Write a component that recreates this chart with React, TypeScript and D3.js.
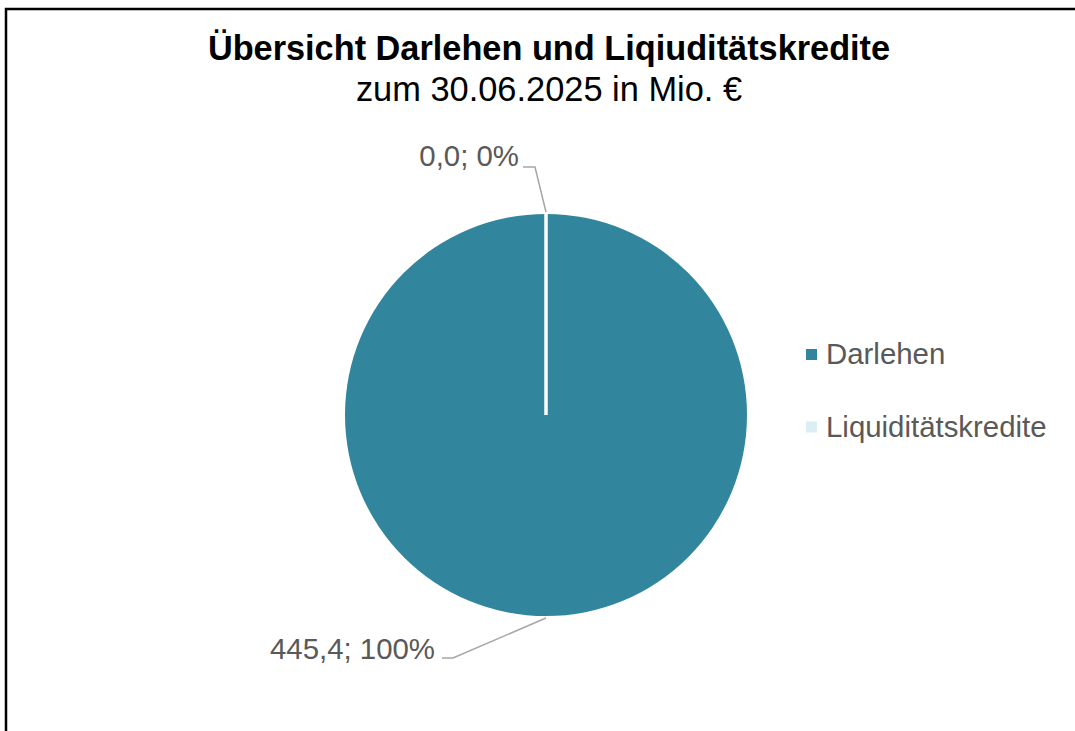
import React from "react";
import * as d3 from "d3";

const categories: string[] = ["Darlehen", "Liquiditätskredite"];
const values: number[] = [445.4, 0.0];
const valueLabels: string[] = ["445,4; 100%", "0,0; 0%"];
const colors: string[] = ["#31859C", "#DAEEF3"];
const title = "Übersicht Darlehen und Liqiuditätskredite";
const subtitle = "zum 30.06.2025 in Mio. €";

const W = 1075;
const H = 731;
const CX = 546;
const CY = 415;
const R = 201;
const FONT = "'Liberation Sans', Arial, sans-serif";
const TEXT = "#595959";
const LF = 29.4;

// layout of leader-line elbows and text for each slice label
const labelLayout = [
  { elbowX: 453, elbowY: 658, endX: 442, textX: 435, textY: 659 },
  { elbowX: 535, elbowY: 167, endX: 523, textX: 519, textY: 166 },
];

export default function App() {
  const pie = d3
    .pie<number>()
    .sort(null)
    .value((d) => d)
    .startAngle(0)
    .endAngle(2 * Math.PI);
  const arcs = pie(values);
  const arc = d3.arc<d3.PieArcDatum<number>>().innerRadius(0).outerRadius(R);
  const pt = (a: number, r: number) => [Math.sin(a) * r, -Math.cos(a) * r];

  return (
    <div style={{ position: "absolute", left: 0, top: 0 }}>
      <svg width={W} height={H} style={{ display: "block", background: "#fff" }}>
        <rect x={0} y={0} width={W} height={H} fill="#fff" />
        <rect x={6} y={9} width={W + 20} height={H + 20} fill="none" stroke="#000" strokeWidth={2.5} />
        <text x={549} y={60} textAnchor="middle" fontFamily={FONT} fontWeight="bold" fontSize={34.3} fill="#000">
          {title}
        </text>
        <text x={549} y={101} textAnchor="middle" fontFamily={FONT} fontSize={34.4} fill="#000">
          {subtitle}
        </text>
        <g transform={`translate(${CX},${CY})`}>
          {arcs.map((a, i) => (
            <path key={i} d={arc(a) || ""} fill={colors[i]} />
          ))}
          {arcs.map((a, i) => {
            const [x, y] = pt(a.startAngle, R + 1);
            return <line key={"s" + i} x1={0} y1={0} x2={x} y2={y} stroke="#fff" strokeWidth={3} />;
          })}
        </g>
        {arcs.map((a, i) => {
          const mid = (a.startAngle + a.endAngle) / 2;
          const [ax, ay] = pt(mid, R + 2);
          const L = labelLayout[i];
          return (
            <g key={"l" + i}>
              <polyline
                points={`${CX + ax},${CY + ay} ${L.elbowX},${L.elbowY} ${L.endX},${L.elbowY}`}
                fill="none"
                stroke="#A6A6A6"
                strokeWidth={1.5}
              />
              <text x={L.textX} y={L.textY} textAnchor="end" fontFamily={FONT} fontSize={LF} fill={TEXT}>
                {valueLabels[i]}
              </text>
            </g>
          );
        })}
        {categories.map((c, i) => (
          <g key={"lg" + i} transform={`translate(806,${349 + i * 72.5})`}>
            <rect x={0} y={0} width={11} height={11} fill={colors[i]} />
            <text x={20} y={15} fontFamily={FONT} fontSize={LF} fill={TEXT}>
              {c}
            </text>
          </g>
        ))}
      </svg>
    </div>
  );
}
